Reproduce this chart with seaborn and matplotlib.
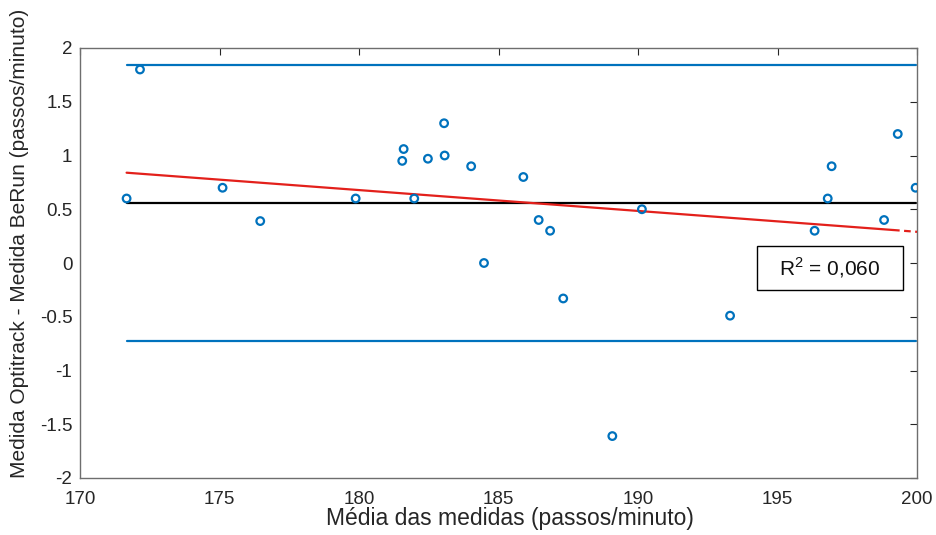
import numpy as np
import seaborn as sns
import matplotlib.pyplot as plt
from matplotlib.patches import Rectangle
from matplotlib.ticker import FuncFormatter

# Points (mean of measures, difference)
media = [171.67, 172.15, 175.11, 176.46, 179.88, 181.55, 181.60, 181.98,
         182.47, 183.05, 183.07, 184.02, 184.48, 185.89, 186.44, 186.85,
         187.32, 189.08, 190.14, 193.30, 196.33, 196.80, 196.94, 198.82,
         199.31, 199.95]
diferenca = [0.60, 1.80, 0.70, 0.39, 0.60, 0.95, 1.06, 0.60,
             0.97, 1.30, 1.00, 0.90, 0.00, 0.80, 0.40, 0.30,
             -0.33, -1.61, 0.50, -0.49, 0.30, 0.60, 0.90, 0.40,
             1.20, 0.70]

# Bias and limits of agreement
vies = 0.558
lim_sup = 1.842
lim_inf = -0.726

# Regression line, solid part and dashed end
reg_x = [171.67, 199.14]
reg_y = [0.84, 0.307]
reg_ext_x = [199.14, 200.0]
reg_ext_y = [0.307, 0.29]

r2_texto = 'R$^2$ = 0,060'

x_ticks = [170, 175, 180, 185, 190, 195, 200]
y_ticks = [-2, -1.5, -1, -0.5, 0, 0.5, 1, 1.5, 2]

BLUE = '#0072BD'
RED = '#E3201B'

sns.set_theme(style='white')
plt.rcParams['font.family'] = ['Liberation Sans', 'DejaVu Sans']
plt.rcParams['mathtext.fontset'] = 'custom'
plt.rcParams['mathtext.rm'] = 'Liberation Sans'

fig, ax = plt.subplots(figsize=(9.36, 5.35), dpi=100)
fig.subplots_adjust(left=80/936, right=917/936, top=1-48/535, bottom=1-478/535)

x0, x1 = min(media), max(media)

# limits of agreement and mean
ax.plot([x0, x1], [lim_sup, lim_sup], color=BLUE, lw=1.6, zorder=2)
ax.plot([x0, x1], [lim_inf, lim_inf], color=BLUE, lw=1.6, zorder=2)
ax.plot([x0, x1], [vies, vies], color='black', lw=1.6, zorder=2)

# regression line
sns.lineplot(x=reg_x, y=reg_y, color=RED, lw=1.6, ax=ax, zorder=3)
ax.plot(reg_ext_x, reg_ext_y, color=RED, lw=1.6, ls=(0, (3, 2)), zorder=3)

# points
sns.scatterplot(x=media, y=diferenca, marker='o', s=30, facecolor='none',
                edgecolor=BLUE, linewidth=1.6, ax=ax, zorder=4)

ax.set_xlim(170, 200)
ax.set_ylim(-2, 2)
ax.set_xticks(x_ticks)
ax.set_yticks(y_ticks)
ax.yaxis.set_major_formatter(FuncFormatter(lambda v, p: f'{v:g}'))
ax.xaxis.set_major_formatter(FuncFormatter(lambda v, p: f'{v:g}'))
ax.tick_params(direction='in', top=True, right=True, length=5, width=0.8,
               labelsize=13.5, colors='#262626')
ax.tick_params(axis='x', pad=9.5)
ax.tick_params(axis='y', pad=5.5)
for s in ax.spines.values():
    s.set_color('#6e6e6e')
    s.set_linewidth(1.0)

ax.set_xlabel('Média das medidas (passos/minuto)', fontsize=16.5, color='#262626')
ax.set_ylabel('Medida Optitrack - Medida BeRun (passos/minuto)', fontsize=15,
              color='#262626')
ax.xaxis.set_label_coords(0.514, -0.067)
ax.yaxis.set_label_coords(-0.061, 0.545)

# R^2 box
ax.add_patch(Rectangle((194.25, -0.251), 5.26, 0.412, fill=True, fc='white',
                       ec='black', lw=1.0, zorder=5))
ax.text(196.88, -0.047, r2_texto, fontsize=15, ha='center', va='center',
        color='#111111', zorder=6)

fig.savefig('out.png', dpi=100)
